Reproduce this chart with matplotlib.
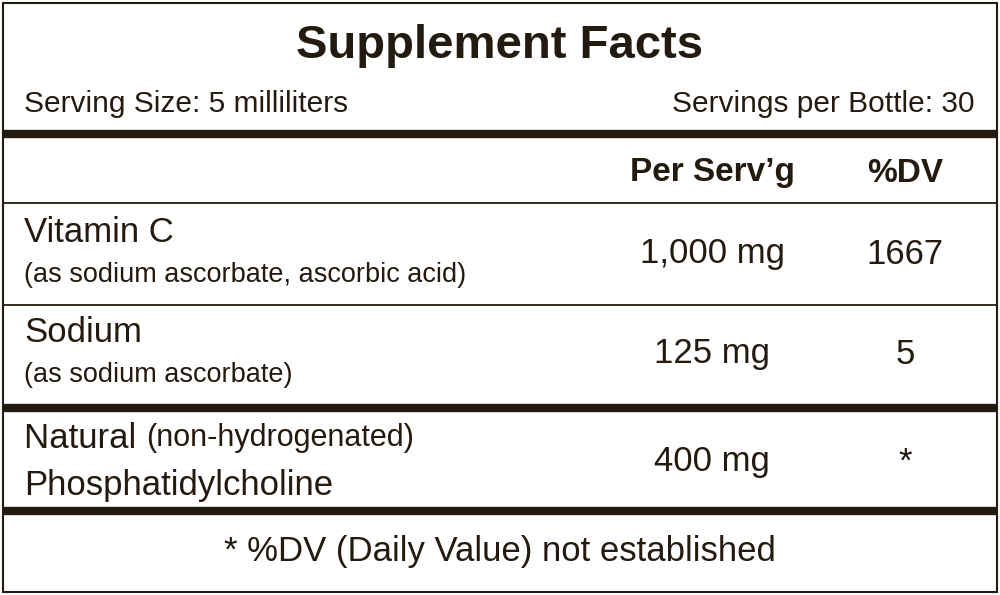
import matplotlib
matplotlib.use("Agg")
import matplotlib.pyplot as plt

plt.rcParams['font.family'] = ['Liberation Sans', 'DejaVu Sans']

title = "Supplement Facts"
serving_size = "Serving Size: 5 milliliters"
servings = "Servings per Bottle: 30"
headers = ["Per Serv\u2019g", "%DV"]
nutrients = ["Vitamin C", "Sodium", None]
sublabels = ["(as sodium ascorbate, ascorbic acid)", "(as sodium ascorbate)", None]
amounts = ["1,000 mg", "125 mg", "400 mg"]
dvs = ["1667", "5", "*"]
footnote = "* %DV (Daily Value) not established"

fig = plt.figure(figsize=(10, 5.95), dpi=100)
ax = fig.add_axes([0, 0, 1, 1])
ax.set_xlim(0, 1000); ax.set_ylim(595, 0); ax.axis('off')
c = '#231a10'
ax.add_patch(plt.Rectangle((3, 3), 994, 589, fill=False, ec=c, lw=1.5))

def hline(y, lw):
    ax.plot([3, 997], [y, y], color=c, lw=lw, solid_capstyle='butt')

hline(134, 6); hline(203, 1.3); hline(305, 1.3); hline(408, 6); hline(511, 6)

ax.text(500, 46, title, ha='center', va='center', fontsize=34, weight='bold', color=c)
ax.text(24, 104, serving_size, ha='left', va='center', fontsize=21.5, color=c)
ax.text(975, 104, servings, ha='right', va='center', fontsize=21.5, color=c)
ax.text(712, 173, headers[0], ha='center', va='center', fontsize=24, weight='bold', color=c)
ax.text(905, 173, headers[1], ha='center', va='center', fontsize=24, weight='bold', color=c)

ys = [254, 354, 462]
for i in range(3):
    y = ys[i]
    if nutrients[i]:
        ax.text(24, y - 21, nutrients[i], ha='left', va='center', fontsize=25, color=c)
        ax.text(24, y + 21, sublabels[i], ha='left', va='center', fontsize=19.5, color=c)
    else:
        t = ax.text(24, y - 24, "Natural ", ha='left', va='center', fontsize=25, color=c)
        fig.canvas.draw()
        bb = t.get_window_extent().transformed(ax.transData.inverted())
        ax.text(bb.x1, y - 24, "(non-hydrogenated)", ha='left', va='center', fontsize=22, color=c)
        ax.text(24, y + 23, "Phosphatidylcholine", ha='left', va='center', fontsize=25, color=c)
    ax.text(712, y, amounts[i], ha='center', va='center', fontsize=25, color=c)
    ax.text(905, y, dvs[i], ha='center', va='center', fontsize=25, color=c)

ax.text(500, 552, footnote, ha='center', va='center', fontsize=25, color=c)
fig.savefig("out.png", dpi=100)
